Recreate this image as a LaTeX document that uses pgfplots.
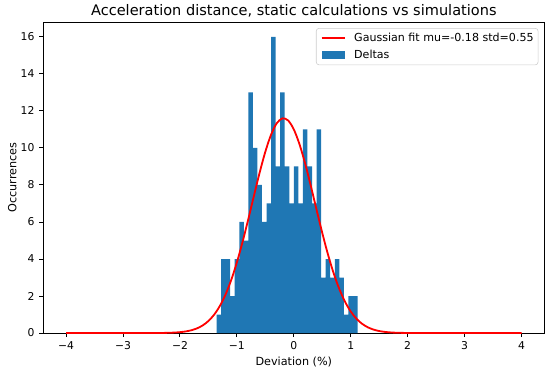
\documentclass[border=0pt]{standalone}
\usepackage{pgfplots}
\pgfplotsset{compat=1.18}
\usepackage{fontspec}
\setmainfont{DejaVu Sans}
\definecolor{mplblue}{HTML}{1F77B4}
\begin{document}
\begin{tikzpicture}
\begin{axis}[
  name=ax,
  scale only axis,
  width=360.7bp, height=223.9bp,
  xmin=-4.4, xmax=4.4, ymin=0, ymax=16.8,
  xtick={-4,-3,-2,-1,0,1,2,3,4},
  xticklabels={−4,−3,−2,−1,0,1,2,3,4},
  ytick={0,2,4,6,8,10,12,14,16},
  /pgf/number format/assume math mode=true,
  tick label style={font=\fontsize{7.8}{9}\selectfont},
  label style={font=\fontsize{8.1}{10}\selectfont},
  every axis title shift=0pt,
  title style={font=\fontsize{10.5}{12.5}\selectfont, at={(axis description cs:0.5,1)}, anchor=base, yshift=5bp},
  title={Acceleration distance, static calculations vs simulations},
  xlabel={Deviation (\%)},
  ylabel={Occurrences},
  xlabel style={at={(axis description cs:0.5,0)}, anchor=base, yshift=-23bp},
  ylabel style={at={(axis description cs:0,0.5)}, anchor=base, yshift=19.5bp},
  xtick pos=bottom, ytick pos=left,
  tick align=outside,
  major tick length=2.9bp,
  tick style={black, line width=0.7bp},
  axis line style={line width=0.7bp},
  legend style={at={(1,1)}, xshift=-4.3bp, yshift=-4.3bp, anchor=north east,
    draw=black!20, rounded corners=2bp,
    font=\fontsize{8}{10}\selectfont, inner xsep=3.2bp, inner ysep=2.9bp,
    row sep=3.5bp, column sep=5.8bp,
    nodes={inner xsep=0pt, inner ysep=0pt, text height=6.5bp, text depth=2bp}},
  legend image post style={sharp corners, line width=1.3bp},
  legend cell align=left,
  reverse legend,
]
\addplot[fill=mplblue, draw=none, const plot mark left,
  legend image code/.code={\fill[mplblue, draw=none, sharp corners] (0cm,-0.1cm) rectangle (0.6cm,0.1cm);}] coordinates {
(-1.3580,0)
(-1.3580,1)
(-1.2781,4)
(-1.1982,4)
(-1.1183,2)
(-1.0384,4)
(-0.9585,6)
(-0.8786,5)
(-0.7987,13)
(-0.7188,10)
(-0.6389,8)
(-0.5590,6)
(-0.4791,7)
(-0.3992,16)
(-0.3193,9)
(-0.2394,13)
(-0.1595,9)
(-0.0796,7)
(0.0003,9)
(0.0802,7)
(0.1601,11)
(0.2400,9)
(0.3199,7)
(0.3998,11)
(0.4797,3)
(0.5596,4)
(0.6395,3)
(0.7194,4)
(0.7993,3)
(0.8792,1)
(0.9591,2)
(1.0390,2)
(1.1189,2)
(1.1189,0)
} \closedcycle;
\addlegendentry{Deltas}
\addplot[red, line width=1.3bp, mark=none, smooth] coordinates {
(-4,0) (-3,0) (-2.5,0.0016) (-2.3,0.0069) (-2.2,0.0137) (-2.1,0.0262) (-2.0,0.0486)
(-1.9,0.0873) (-1.8,0.1516) (-1.7,0.2548) (-1.6,0.414) (-1.5,0.6515) (-1.4,0.9916)
(-1.3,1.460) (-1.2,2.079) (-1.1,2.865) (-1.0,3.820) (-0.9,4.927) (-0.8,6.149)
(-0.7,7.424) (-0.6,8.672) (-0.5,9.800) (-0.4,10.715) (-0.3,11.334) (-0.2,11.599)
(-0.1,11.485) (0,11.002) (0.1,10.196) (0.2,9.143) (0.3,7.931) (0.4,6.656)
(0.5,5.405) (0.6,4.246) (0.7,3.227) (0.8,2.373) (0.9,1.689) (1.0,1.162)
(1.1,0.774) (1.2,0.4985) (1.3,0.3107) (1.4,0.1874) (1.5,0.1093) (1.6,0.0617)
(1.7,0.0337) (1.8,0.0178) (2.0,0.0045) (2.2,0.001) (2.5,0) (3,0) (4,0)
};
\addlegendentry{Gaussian fit mu=-0.18 std=0.55}
\end{axis}
\pgfresetboundingbox
\path ([shift={(-31.2bp,-26.6bp)}]ax.south west) rectangle ++(396bp,266.4bp);
\end{tikzpicture}
\end{document}
